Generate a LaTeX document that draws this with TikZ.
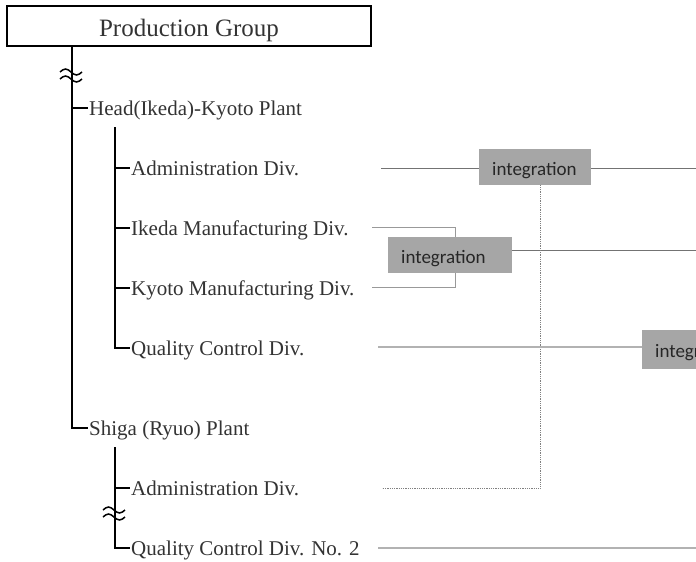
\documentclass[tikz,border=0pt]{standalone}
\usepackage{fontspec}
\setmainfont{Liberation Serif}
\newfontfamily\boxfont{Carlito}
\tikzset{
	% style for the top box
	group/.style={
		rectangle,
		draw=black, line width=1.5pt,
		minimum width=364pt,
		minimum height=40pt,
		text height=23pt, text depth=3pt,
		font=\fontsize{25}{30}\selectfont,
		text=black!80},
	% style for plants and divisions
	unit/.style={
		anchor=west,
		inner sep=1pt,
		text height=18pt, text depth=4pt,
		font=\fontsize{21}{25}\selectfont,
		text=black!80},
	% style for the grey boxes
	intbox/.style={
		anchor=west,
		fill=black!35,
		inner xsep=13pt,
		minimum height=36pt,
		text height=18pt, text depth=2pt,
		align=left,
		text width=86pt,
		font=\boxfont\fontsize{19}{23}\selectfont,
		text=black!85},
	% tree lines
	tree/.style={draw=black, line width=1.6pt},
	wave/.style={draw=black, line width=1.5pt},
	% connector lines
	link/.style={draw=black!55, line width=0.8pt},
	pale/.style={draw=black!30, line width=1.4pt},
	dots/.style={draw=black!50, line width=0.8pt, densely dotted}
}
\begin{document}
\begin{tikzpicture}[x=1pt, y=-1pt]
	\useasboundingbox (0,0) rectangle (696,562);
	\clip (0,0) rectangle (696,562);

	\node[group] (pg) at (189,26) {Production Group};

	\node[unit] (head) at (88,108) {Head(Ikeda)-Kyoto Plant};
	\node[unit] (adm1) at (130,168) {Administration Div.};
	\node[unit] (ikd) at (130,228) {Ikeda Manufacturing Div.};
	\node[unit] (kyo) at (130,288) {Kyoto Manufacturing Div.};
	\node[unit] (qc) at (130,348) {Quality Control Div.};

	\node[unit] (shiga) at (88,428) {Shiga (Ryuo) Plant};
	\node[unit] (adm2) at (130,488) {Administration Div.};
	\node[unit] (qc2) at (130,548) {Quality Control Div. No. 2};

	% tree
	\coordinate (trunk) at (72,0);
	\coordinate (sub1) at (115,127);
	\coordinate (sub2) at (115,447);
	\draw[tree] (pg.south -| trunk) |- (shiga.west);
	\draw[tree] (trunk |- head.west) -- (head.west);
	\draw[tree] (sub1) |- (qc.west);
	\foreach \n in {adm1,ikd,kyo}
		\draw[tree] (sub1 |- \n.west) -- (\n.west);
	\draw[tree] (sub2) |- (qc2.west);
	\draw[tree] (sub2 |- adm2.west) -- (adm2.west);
	\foreach \y in {72,79}
		\draw[wave] (60,\y) sin (65.5,\y-3) cos (71,\y) sin (76.5,\y+3) cos (82,\y);
	\foreach \y in {510,517}
		\draw[wave] (103,\y) sin (108.5,\y-3) cos (114,\y) sin (119.5,\y+3) cos (125,\y);

	% free ends of the connectors
	\coordinate (adm1-r) at (381,168);
	\coordinate (ikd-r) at (372,227);
	\coordinate (kyo-r) at (372,287);
	\coordinate (qc-r) at (378,347);
	\coordinate (adm2-r) at (382,488);
	\coordinate (qc2-r) at (378,548);
	\coordinate (bend) at (455,0);
	\coordinate (drop) at (540,0);
	\coordinate (edge) at (696,0);

	\draw[link, draw=black!40] (ikd-r) -| (bend |- kyo-r) -- (kyo-r);

	\node[intbox] (int1) at (479,167) {integration};
	\node[intbox, text width=98pt] (int2) at (388,255) {integration};
	\node[intbox, minimum height=39pt] (int3) at (642,349.5) {integration};

	\draw[link] (adm1-r) -- (adm1-r -| int1.west);
	\draw[link] (adm1-r -| int1.east) -- (adm1-r -| edge);
	\draw[link] ([yshift=5pt]int2.east) -- ([yshift=5pt]int2.east -| edge);
	\draw[dots] (int1.south -| drop) |- (adm2-r);
	\draw[pale] (qc-r) -- (qc-r -| int3.west);
	\draw[pale] (qc2-r) -- (qc2-r -| edge);
\end{tikzpicture}
\end{document}
